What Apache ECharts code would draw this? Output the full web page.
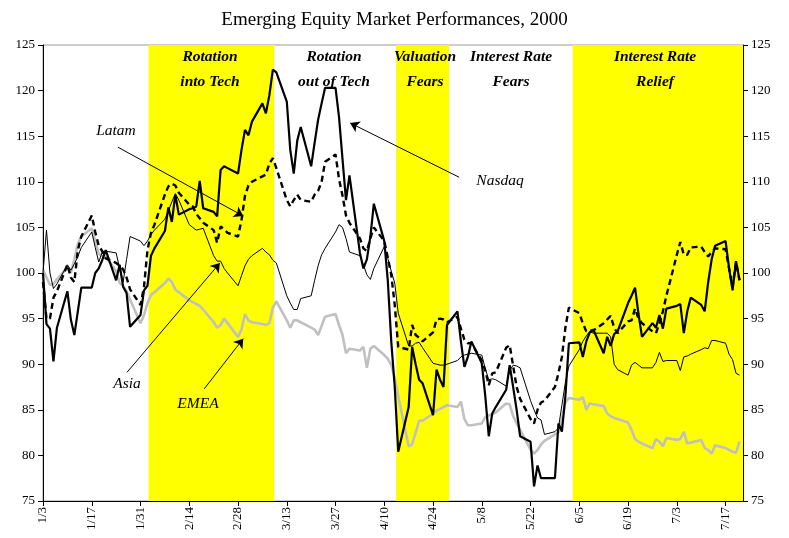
<!DOCTYPE html>
<html>
<head>
<meta charset="utf-8">
<script src="https://cdn.jsdelivr.net/npm/echarts@6/dist/echarts.min.js"></script>
<style>html,body{margin:0;padding:0;background:#fff}#c{width:789px;height:538px}</style>
</head>
<body>
<div id="c"></div>
<script>
const dates = [
'1/3','1/4','1/5','1/6','1/7','1/10','1/11','1/12','1/13','1/14',
'1/17','1/18','1/19','1/20','1/21','1/24','1/25','1/26','1/27','1/28',
'1/31','2/1','2/2','2/3','2/4','2/7','2/8','2/9','2/10','2/11',
'2/14','2/15','2/16','2/17','2/18','2/21','2/22','2/23','2/24','2/25',
'2/28','2/29','3/1','3/2','3/3','3/6','3/7','3/8','3/9','3/10',
'3/13','3/14','3/15','3/16','3/17','3/20','3/21','3/22','3/23','3/24',
'3/27','3/28','3/29','3/30','3/31','4/3','4/4','4/5','4/6','4/7',
'4/10','4/11','4/12','4/13','4/14','4/17','4/18','4/19','4/20','4/21',
'4/24','4/25','4/26','4/27','4/28','5/1','5/2','5/3','5/4','5/5',
'5/8','5/9','5/10','5/11','5/12','5/15','5/16','5/17','5/18','5/19',
'5/22','5/23','5/24','5/25','5/26','5/29','5/30','5/31','6/1','6/2',
'6/5','6/6','6/7','6/8','6/9','6/12','6/13','6/14','6/15','6/16',
'6/19','6/20','6/21','6/22','6/23','6/26','6/27','6/28','6/29','6/30',
'7/3','7/4','7/5','7/6','7/7','7/10','7/11','7/12','7/13','7/14',
'7/17','7/18','7/19','7/20','7/21'];

const nasdaq = [
100,94.4,93.9,90.3,94.0, 98.0,94.9,93.2,95.8,98.4,
98.4,100.0,100.5,101.4,102.5, 99.2,100.9,98.5,97.8,94.1,
95.4,98.1,98.6,101.9,102.7, 104.6,107.2,105.6,108.6,106.4,
107.0,107.1,107.3,110.1,107.1, 106.7,106.2,111.3,111.7,111.5,
110.9,113.5,115.7,115.1,116.6, 118.6,117.5,119.5,122.3,122.0,
118.8,113.5,110.9,114.5,116.0, 111.7,114.3,116.8,118.6,120.3,
120.3,117.1,112.5,108.0,110.7, 102.2,100.5,101.5,104.0,107.6,
103.5,99.2,92.5,87.5,80.4, 85.3,91.9,90.0,88.3,87.9,
84.4,89.4,88.3,87.5,94.3, 95.8,92.5,89.7,90.8,92.5,
90.1,86.5,82.1,84.6,85.3, 87.2,89.9,87.5,85.0,82.1,
81.5,76.6,78.9,77.5,77.5, 77.5,83.5,82.6,86.5,92.3,
92.4,90.8,92.5,93.5,93.8, 91.2,93.0,92.0,93.3,93.6,
96.7,97.5,98.4,95.5,93.0, 94.5,94.0,95.4,93.9,96.1,
96.4,96.6,93.4,95.8,97.3, 96.5,95.8,99.0,101.5,103.0,
103.5,100.5,98.1,101.3,99.2];

const latam = [
99.0,95.0,95.0,97.3,98.0, 100.9,99.5,99.0,102.5,104.0,
106.3,104.5,103.0,102.4,101.6, 101.1,100.8,100.4,99.5,98.2,
96.5,98.5,102.5,104.4,105.3, 108.6,109.5,109.8,109.6,108.8,
107.5,107.3,106.5,106.0,105.5, 104.7,103.3,105.1,104.8,104.4,
104.0,105.8,108.5,109.6,110.0, 110.6,110.8,112.0,112.6,111.5,
108.0,107.3,108.0,108.6,108.0, 107.8,108.6,109.0,110.0,112.2,
113.0,110.3,108.5,106.3,105.5, 103.8,102.7,102.4,103.8,105.0,
103.5,101.7,99.8,96.5,91.9, 91.6,94.3,93.2,92.9,92.5,
93.5,94.9,95.0,94.9,94.6, 95.2,93.9,92.7,92.3,92.3,
90.4,89.3,87.7,89.0,89.1, 91.8,92.1,89.8,87.5,86.2,
84.0,83.5,85.0,85.8,86.0, 87.5,89.0,90.8,94.0,96.2,
95.6,94.5,93.6,93.7,93.7, 94.5,94.9,95.3,94.0,93.4,
94.7,94.8,96.1,95.0,94.5, 93.6,93.4,94.5,95.8,97.5,
102.0,103.4,102.0,102.0,102.8, 102.9,102.3,101.8,102.3,102.7,
102.6,100.5,98.5,101.2,99.2];

const asia = [
100.0,104.7,100.0,98.3,98.8, 100.9,100.3,101.0,101.8,102.8,
104.5,102.8,101.2,102.3,102.4, 102.2,100.5,99.0,101.5,104.0,
103.5,103.0,103.5,104.2,104.7, 105.9,106.8,107.8,108.7,108.0,
105.3,105.0,104.7,104.8,104.9, 101.9,101.3,101.3,100.5,100.0,
98.6,99.7,100.8,101.5,101.9, 102.7,102.3,102.0,101.4,101.1,
97.5,96.7,96.0,96.0,97.2, 97.5,99.2,100.8,102.0,102.7,
104.5,105.3,105.0,103.8,102.3, 101.9,100.9,99.8,99.3,100.5,
102.9,101.6,100.2,98.9,95.6, 92.0,92.0,92.3,92.4,91.8,
90.1,90.0,89.9,89.9,90.0, 90.4,90.8,91.0,91.1,91.2,
91.0,89.5,88.3,88.4,88.3, 87.6,89.3,89.9,89.8,89.6,
86.0,85.0,84.1,83.9,82.3, 82.6,83.0,85.5,88.0,89.8,
91.6,92.5,93.1,93.6,93.4, 93.4,93.4,93.0,90.0,89.4,
88.8,89.9,90.2,89.9,89.6, 89.6,90.2,91.3,90.3,90.4,
90.4,89.3,90.8,90.9,91.1, 91.6,91.8,91.7,92.6,92.6,
92.3,91.1,90.5,89.0,88.8];

const emea = [
100.4,99.5,98.7,98.8,99.3, 100.6,100.0,101.5,103.2,104.0,
104.9,103.5,102.1,101.9,101.8, 100.2,98.9,98.6,98.0,97.1,
94.5,95.4,96.7,97.6,97.9, 98.9,99.4,99.0,98.2,97.9,
97.0,96.8,96.6,96.4,96.0, 94.6,94.0,94.3,95.0,94.5,
93.0,93.8,95.5,94.8,94.6, 94.4,94.3,94.5,96.2,96.9,
94.8,94.0,94.8,94.8,94.6, 94.0,93.8,93.2,94.2,95.2,
95.5,94.3,93.2,91.2,91.7, 91.5,91.9,89.6,91.7,92.0,
91.0,90.6,89.9,88.5,86.5, 81.0,81.2,82.5,83.8,83.8,
84.6,84.9,85.1,85.3,85.5, 85.3,85.9,84.0,83.3,83.3,
83.5,84.2,84.4,84.5,84.7, 85.7,85.6,84.3,83.5,82.8,
80.6,80.2,80.6,81.2,81.6, 82.3,82.5,84.0,85.8,86.3,
86.1,86.4,85.0,85.7,85.6, 85.4,84.6,84.3,84.1,84.0,
83.6,82.8,81.8,81.5,81.3, 80.8,81.8,81.5,81.0,81.9,
81.7,81.8,82.6,81.3,81.4, 81.7,80.8,80.6,80.2,81.1,
80.8,80.6,80.4,80.3,81.5];

const tickLabels = ['1/3','1/17','1/31','2/14','2/28','3/13','3/27','4/10','4/24','5/8','5/22','6/5','6/19','7/3','7/17'];

// shaded periods, in days after 1/3
const bands = [[30.3, 66.4], [101.4, 116.6], [152.1, 201]];

function dayOf(s) {
  const [m, d] = s.split('/').map(Number);
  return Math.round((Date.UTC(2000, m - 1, d) - Date.UTC(2000, 0, 3)) / 864e5);
}
const xs = dates.map(dayOf);
const tickDays = tickLabels.map(dayOf);
const pairs = arr => arr.map((v, i) => [xs[i], v]);

const SERIF = '"Liberation Serif", "Times New Roman", serif';
const chart = echarts.init(document.getElementById('c'), null, {renderer: 'canvas'});

const yAxisBase = {
  type: 'value', min: 75, max: 125, interval: 5,
  axisLine: {show: true, lineStyle: {color: '#000', width: 1}},
  axisTick: {show: true, inside: false, length: 5, lineStyle: {color: '#000'}},
  axisLabel: {color: '#000', fontFamily: SERIF, fontSize: 13, margin: 8},
  splitLine: {show: false}
};

const bandFont = 'italic bold 15.5px ' + SERIF;
const noteFont = 'italic 15.5px ' + SERIF;

const option = {
  animation: false,
  backgroundColor: '#fff',
  title: {
    text: 'Emerging Equity Market Performances, 2000',
    left: 'center', top: 6,
    textStyle: {fontFamily: SERIF, fontSize: 19, fontWeight: 'normal', color: '#000'}
  },
  grid: {left: 43, right: 46, top: 45, bottom: 37, show: true, borderColor: '#9a9a9a', borderWidth: 1, backgroundColor: 'transparent'},
  xAxis: {
    type: 'value', min: 0, max: 201, interval: 14,
    axisLine: {show: true, onZero: false, lineStyle: {color: '#000', width: 1}},
    axisTick: {show: true, length: 5, customValues: tickDays, lineStyle: {color: '#000'}},
    axisLabel: {
      customValues: tickDays,
      rotate: 90, margin: 6, color: '#000', fontFamily: SERIF, fontSize: 13,
      formatter: v => { const k = tickDays.indexOf(Math.round(v)); return k >= 0 ? tickLabels[k] : ''; }
    },
    splitLine: {show: false}
  },
  yAxis: [
    Object.assign({}, yAxisBase, {position: 'left'}),
    Object.assign({}, yAxisBase, {position: 'right'})
  ],
  graphic: [
    {type: 'text', z: 100, style: {text: 'Rotation\ninto Tech', x: 210, y: 69, align: 'center', verticalAlign: 'middle', lineHeight: 25, font: bandFont, fill: '#000'}},
    {type: 'text', z: 100, style: {text: 'Rotation\nout of Tech', x: 334, y: 69, align: 'center', verticalAlign: 'middle', lineHeight: 25, font: bandFont, fill: '#000'}},
    {type: 'text', z: 100, style: {text: 'Valuation\nFears', x: 425, y: 69, align: 'center', verticalAlign: 'middle', lineHeight: 25, font: bandFont, fill: '#000'}},
    {type: 'text', z: 100, style: {text: 'Interest Rate\nFears', x: 511, y: 69, align: 'center', verticalAlign: 'middle', lineHeight: 25, font: bandFont, fill: '#000'}},
    {type: 'text', z: 100, style: {text: 'Interest Rate\nRelief', x: 655, y: 69, align: 'center', verticalAlign: 'middle', lineHeight: 25, font: bandFont, fill: '#000'}},
    {type: 'text', z: 100, style: {text: 'Latam', x: 116, y: 131, align: 'center', verticalAlign: 'middle', font: noteFont, fill: '#000'}},
    {type: 'text', z: 100, style: {text: 'Nasdaq', x: 500, y: 181, align: 'center', verticalAlign: 'middle', font: noteFont, fill: '#000'}},
    {type: 'text', z: 100, style: {text: 'Asia', x: 127, y: 384, align: 'center', verticalAlign: 'middle', font: noteFont, fill: '#000'}},
    {type: 'text', z: 100, style: {text: 'EMEA', x: 198, y: 404, align: 'center', verticalAlign: 'middle', font: noteFont, fill: '#000'}}
  ],
  series: [
    {
      name: 'bands', type: 'line', data: [], z: 1, silent: true,
      markArea: {
        silent: true,
        itemStyle: {color: '#ffff00', opacity: 1},
        data: bands.map(b => [{xAxis: b[0]}, {xAxis: b[1]}])
      }
    },
    {
      name: 'EMEA', type: 'line', data: pairs(emea), z: 3, showSymbol: false, silent: true,
      lineStyle: {color: '#c0c0c0', width: 2.6}
    },
    {
      name: 'Asia', type: 'line', data: pairs(asia), z: 4, showSymbol: false, silent: true,
      lineStyle: {color: '#000', width: 1}
    },
    {
      name: 'Latam', type: 'line', data: pairs(latam), z: 5, showSymbol: false, silent: true,
      lineStyle: {color: '#000', width: 2.4, type: [6, 4]}
    },
    {
      name: 'Nasdaq', type: 'line', data: pairs(nasdaq), z: 6, showSymbol: false, silent: true,
      lineStyle: {color: '#000', width: 2.2},
      markLine: {
        silent: true, symbol: ['none', 'arrow'], symbolSize: 9, animation: false,
        label: {show: false},
        lineStyle: {color: '#000', width: 1, type: 'solid'},
        emphasis: {disabled: true},
        data: [
          [{coord: [21.5, 113.8]}, {coord: [57.5, 106.25]}],
          [{coord: [119.5, 110.5]}, {coord: [88.2, 116.45]}],
          [{coord: [24.1, 89.1]}, {coord: [50.8, 101.1]}],
          [{coord: [46.3, 87.3]}, {coord: [57.5, 92.8]}]
        ]
      }
    }
  ]
};
chart.setOption(option);
</script>
</body>
</html>
